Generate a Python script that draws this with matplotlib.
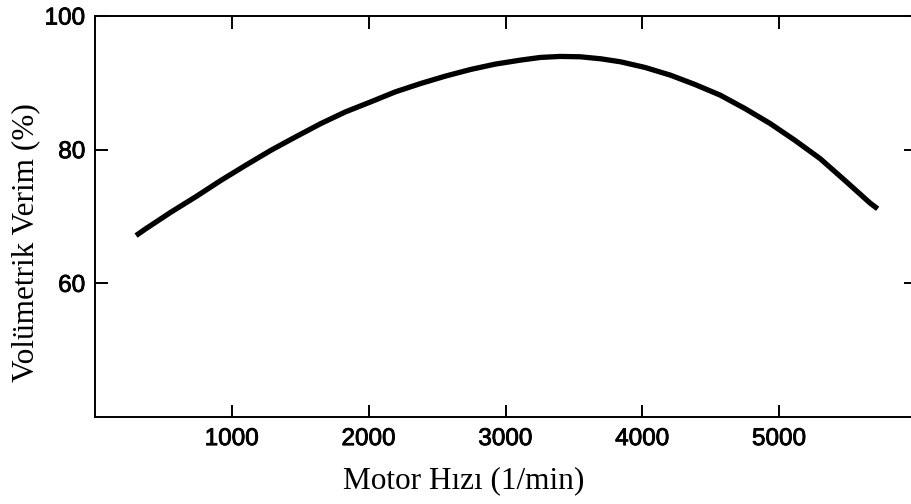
import matplotlib
matplotlib.use("Agg")
import matplotlib.pyplot as plt
import matplotlib.patheffects as pe

# Volumetric efficiency versus engine speed
speed_rpm = [300, 370, 555, 740, 920, 1100, 1285, 1465, 1650, 1830, 2015,
             2195, 2380, 2560, 2745, 2925, 3110, 3255, 3400, 3545, 3695,
             3840, 4020, 4205, 4385, 4570, 4750, 4935, 5115, 5300, 5480,
             5665, 5720]
efficiency_pct = [67.15, 68.15, 70.65, 73.0, 75.4, 77.65, 79.9, 81.9, 83.9,
                  85.65, 87.15, 88.65, 89.9, 91.0, 92.0, 92.8, 93.4, 93.8,
                  93.95, 93.9, 93.6, 93.15, 92.3, 91.15, 89.75, 88.15, 86.15,
                  83.9, 81.4, 78.65, 75.4, 72.0, 71.15]

x_ticks = [1000, 2000, 3000, 4000, 5000]
y_ticks = [60, 80, 100]

W, H = 912, 504
fig = plt.figure(figsize=(W / 100, H / 100), dpi=100)
left, right, top, bottom = 95, 916, 16, 417
ax = fig.add_axes([left / W, 1 - bottom / H, (right - left) / W, (bottom - top) / H])

ax.plot(speed_rpm, efficiency_pct, color="black", lw=3.8,
        solid_capstyle="butt", solid_joinstyle="round")

ax.set_xlim(0, 6000)
ax.set_ylim(40, 100)
ax.set_xticks(x_ticks)
ax.set_yticks(y_ticks)

for s in ax.spines.values():
    s.set_linewidth(1.4)

tick_font = {"family": "Liberation Sans", "size": 17.5}
ax.set_xticklabels([str(v) for v in x_ticks], fontdict=tick_font)
ax.set_yticklabels([str(v) for v in y_ticks], fontdict=tick_font)
heavier = [pe.withStroke(linewidth=0.6, foreground="black")]
for lbl in ax.get_xticklabels() + ax.get_yticklabels():
    lbl.set_path_effects(heavier)
ax.tick_params(axis="both", direction="in", length=9, width=1.4,
               top=True, right=True)
ax.tick_params(axis="x", pad=8)
ax.tick_params(axis="y", pad=7)

label_font = {"family": "Liberation Serif", "size": 22.5}
ax.set_xlabel("Motor Hızı (1/min)", fontdict=label_font)
ax.xaxis.set_label_coords((464 - left) / (right - left), -(481 - bottom) / (bottom - top))
ax.set_ylabel("Volümetrik Verim (%)", fontdict=label_font)
ax.yaxis.set_label_coords(-(95 - 26) / (right - left), (bottom - 243) / (bottom - top))
ax.xaxis.label.set_va("center")
ax.yaxis.label.set_va("center")

fig.savefig("out.png", dpi=100)
